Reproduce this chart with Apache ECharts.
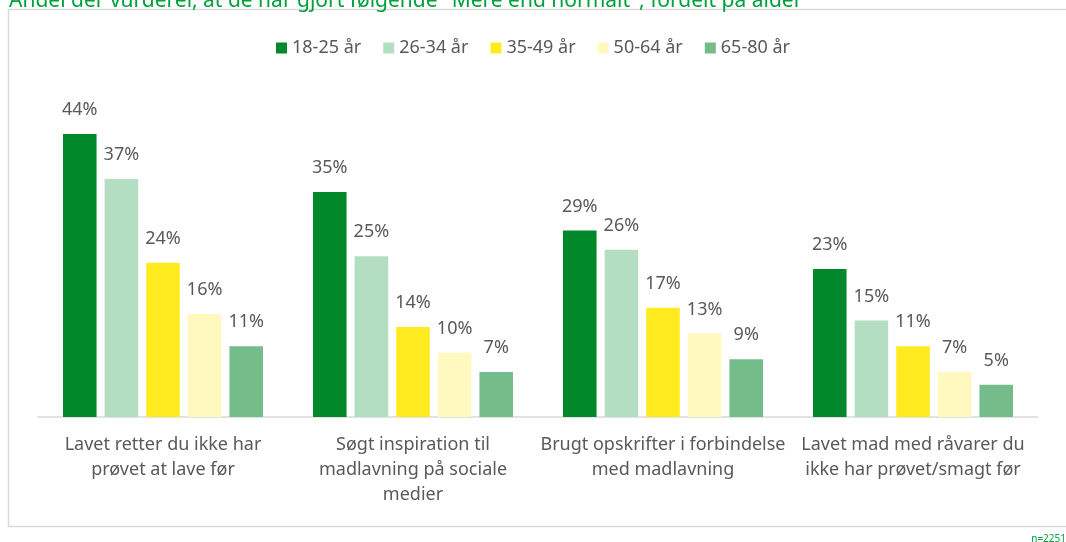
<!DOCTYPE html>
<html>
<head>
<meta charset="utf-8">
<script src="https://cdn.jsdelivr.net/npm/echarts@6/dist/echarts.min.js"></script>
<style>
  html, body { margin: 0; padding: 0; background: #fff; }
  #chart { width: 1066px; height: 542px; }
</style>
</head>
<body>
<div id="chart"></div>
<script>
// kategorier (aktiviteter)
const categories = [
  'Lavet retter du ikke har\nprøvet at lave før',
  'Søgt inspiration til\nmadlavning på sociale\nmedier',
  'Brugt opskrifter i forbindelse\nmed madlavning',
  'Lavet mad med råvarer du\nikke har prøvet/smagt før'
]
// aldersgrupper
const ageGroups = ['18-25 år', '26-34 år', '35-49 år', '50-64 år', '65-80 år']
const colors = ['#00882B', '#B3DEC1', '#FFEB1F', '#FFF8BF', '#74BD8A']

// andele i procent
const age18to25 = [44, 35, 29, 23]
const age26to34 = [37, 25, 26, 15]
const age35to49 = [24, 14, 17, 11]
const age50to64 = [16, 10, 13, 7]
const age65to80 = [11, 7, 9, 5]
const values = [age18to25, age26to34, age35to49, age50to64, age65to80]

const textColor = '#595959'
const font = 'Noto Sans'

const chart = echarts.init(document.getElementById('chart'))

const option = {
  animation: false,
  title: {
    text: 'Andel der vurderer, at de har gjort følgende "Mere end normalt", fordelt på alder',
    left: 4,
    top: -14,
    textStyle: { color: '#00A03C', fontSize: 21, fontWeight: 'normal', fontFamily: font }
  },
  graphic: [
    {
      type: 'rect',
      shape: { x: 8.5, y: 9.5, width: 1080, height: 517 },
      style: { fill: 'none', stroke: '#d9d9d9', lineWidth: 1.5 },
      z: -1
    },
    {
      type: 'text',
      right: 0,
      bottom: -2,
      style: { text: 'n=2251', fill: '#00A03C', fontSize: 10, fontFamily: font }
    }
  ],
  legend: {
    data: ageGroups,
    top: 34,
    left: 'center',
    itemWidth: 11,
    itemHeight: 11,
    itemGap: 22,
    icon: 'rect',
    textStyle: { color: textColor, fontSize: 18, fontFamily: font }
  },
  grid: {
    left: 38,
    right: 28,
    top: 95.5,
    bottom: 125,
    containLabel: false
  },
  xAxis: {
    type: 'category',
    data: categories,
    axisTick: { show: false },
    axisLine: { lineStyle: { color: '#d9d9d9', width: 1.5 } },
    axisLabel: {
      color: textColor,
      fontSize: 18,
      fontFamily: font,
      lineHeight: 25,
      margin: 15,
      interval: 0
    }
  },
  yAxis: {
    type: 'value',
    min: 0,
    max: 50,
    show: false,
    splitLine: { show: false }
  },
  series: ageGroups.map((name, i) => ({
    name: name,
    type: 'bar',
    data: values[i],
    barCategoryGap: '20%',
    barGap: '24%',
    itemStyle: { color: colors[i] },
    label: {
      show: true,
      position: 'top',
      distance: 15,
      formatter: '{c}%',
      color: textColor,
      fontSize: 18,
      fontFamily: font
    }
  }))
}

chart.setOption(option)
</script>
</body>
</html>
